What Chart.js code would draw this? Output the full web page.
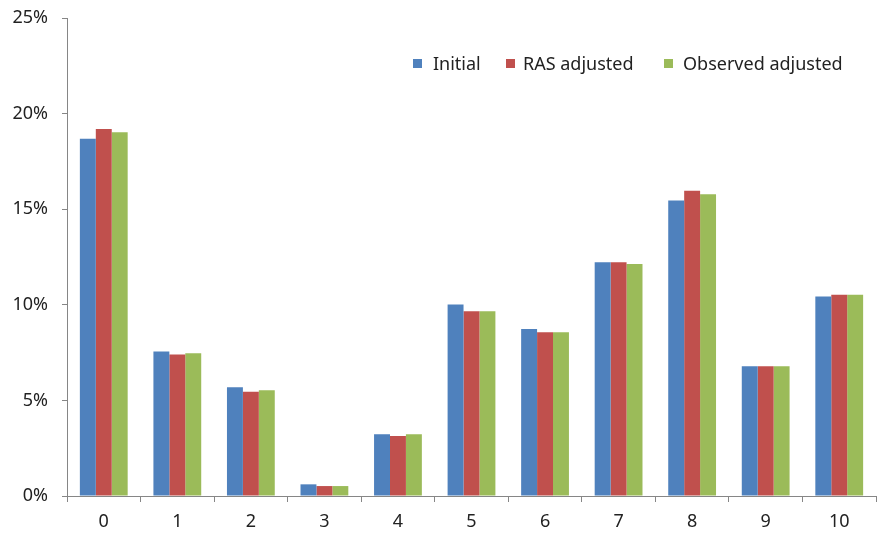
<!DOCTYPE html>
<html>
<head>
<meta charset="utf-8">
<script src="https://cdn.jsdelivr.net/npm/chart.js@4/dist/chart.umd.min.js"></script>
<style>
  html, body { margin: 0; padding: 0; background: #fff; }
  #wrap { position: relative; width: 877px; height: 539px; }
  .lg-box { position: absolute; top: 59px; width: 9px; height: 9px; }
  .lg-text { position: absolute; top: 51px; font: 18px "Noto Sans", sans-serif; line-height: 24px; color: #222; white-space: nowrap; }
</style>
</head>
<body>
<div id="wrap">
  <canvas id="chart" width="877" height="539"></canvas>
  <div id="legend"></div>
</div>
<script>
// values (percent)
const categories = ['0', '1', '2', '3', '4', '5', '6', '7', '8', '9', '10'];
const initialVals = [18.68, 7.56, 5.69, 0.61, 3.23, 10.01, 8.73, 12.22, 15.46, 6.78, 10.44];
const rasVals = [19.19, 7.40, 5.45, 0.52, 3.14, 9.66, 8.56, 12.22, 15.97, 6.78, 10.53];
const observedVals = [19.02, 7.47, 5.53, 0.52, 3.23, 9.66, 8.56, 12.13, 15.78, 6.78, 10.53];
const yTicks = [0, 5, 10, 15, 20, 25];

const seriesNames = ['Initial', 'RAS adjusted', 'Observed adjusted'];
const seriesColors = ['#4F81BD', '#C0504D', '#9BBB59'];
const axisColor = '#868686';
const font = { family: '"Noto Sans", sans-serif', size: 18 };

// legend placement (box left, text left)
const legendBoxX = [413, 506, 664];
const legendTextX = [433, 523, 683];

document.addEventListener('DOMContentLoaded', () => {
  renderChart();
  renderLegend();
});

function renderChart() {
  const seriesData = [initialVals, rasVals, observedVals];
  const ctx = document.getElementById('chart').getContext('2d');
  new Chart(ctx, {
    type: 'bar',
    data: {
      labels: categories,
      datasets: seriesData.map((vals, i) => ({
        label: seriesNames[i],
        data: vals,
        backgroundColor: seriesColors[i],
        borderWidth: 0,
        categoryPercentage: 0.65,
        barPercentage: 1.0,
      })),
    },
    options: {
      responsive: false,
      animation: false,
      layout: { padding: { top: 18, right: 1, left: 0, bottom: 0 } },
      plugins: { legend: { display: false }, tooltip: { enabled: false } },
      scales: {
        x: {
          grid: { offset: true, drawOnChartArea: false, color: axisColor, tickLength: 6, tickWidth: 1 },
          border: { color: axisColor, width: 1 },
          ticks: { font, color: '#222', padding: 9 },
          afterFit: s => { s.height = 43; s.paddingLeft = 0; s.paddingRight = 0; },
        },
        y: {
          min: 0,
          max: 25,
          afterBuildTicks: s => { s.ticks = yTicks.map(v => ({ value: v })); },
          grid: { drawOnChartArea: false, color: axisColor, tickLength: 5 },
          border: { color: axisColor, width: 1 },
          ticks: { font, color: '#222', padding: 14, callback: v => v + '%' },
          afterFit: s => { s.width = 67; s.paddingTop = 0; s.paddingBottom = 0; },
        },
      },
    },
  });
}

function renderLegend() {
  const el = document.getElementById('legend');
  el.innerHTML = seriesNames.map((n, i) =>
    `<div class="lg-box" style="left:${legendBoxX[i]}px;background:${seriesColors[i]}"></div>` +
    `<div class="lg-text" style="left:${legendTextX[i]}px">${n}</div>`
  ).join('');
}
</script>
</body>
</html>
